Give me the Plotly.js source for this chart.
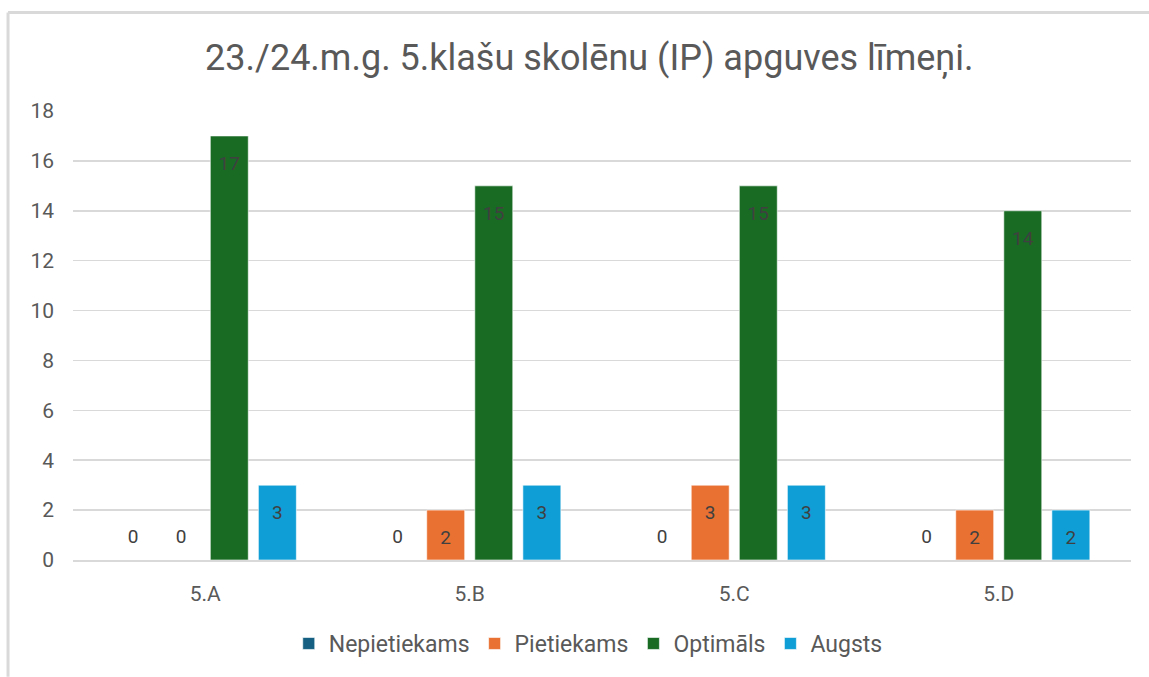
<!DOCTYPE html>
<html>
<head>
<meta charset="utf-8">
<script src="https://cdn.plot.ly/plotly-3.0.1.min.js"></script>
<style>html,body{margin:0;padding:0;background:#fff;}#chart{width:1149px;height:677px;}</style>
</head>
<body>
<div id="chart"></div>
<script>
var categories = ['5.A', '5.B', '5.C', '5.D'];
var seriesNames = ['Nepietiekams', 'Pietiekams', 'Optimāls', 'Augsts'];
var nepietiekams = [0, 0, 0, 0];
var pietiekams = [0, 2, 3, 2];
var optimals = [17, 15, 15, 14];
var augsts = [3, 3, 3, 2];
var colors = ['#156082', '#E97132', '#196B24', '#0F9ED5'];
var tickVals = [0, 2, 4, 6, 8, 10, 12, 14, 16, 18];

var allValues = [nepietiekams, pietiekams, optimals, augsts];
var FONT = 'Roboto, "Liberation Sans", Arial, sans-serif';

var traces = allValues.map(function (vals, i) {
  return {
    type: 'bar',
    name: seriesNames[i],
    offsetgroup: 'g' + i,
    x: categories,
    y: vals,
    marker: { color: colors[i], line: { color: 'rgba(255,255,255,0.6)', width: 1 } },
    hoverinfo: 'x+y+name'
  };
});

// invisible markers used only to push the value labels away from the bar end
var labelTraces = allValues.map(function (vals, i) {
  return {
    type: 'scatter',
    mode: 'markers+text',
    orientation: 'v',
    offsetgroup: 'g' + i,
    showlegend: false,
    x: categories,
    y: vals,
    text: vals.map(String),
    textposition: vals.map(function (v) { return v === 0 ? 'top center' : 'bottom center'; }),
    marker: { size: vals.map(function (v) { return v === 0 ? 18 : 30; }), opacity: 0, color: colors[i] },
    textfont: { family: FONT, size: 19, color: '#404040' },
    cliponaxis: false,
    hoverinfo: 'skip'
  };
});

var layout = {
  width: 1149,
  height: 677,
  paper_bgcolor: '#ffffff',
  plot_bgcolor: '#ffffff',
  margin: { l: 73, r: 18, t: 111, b: 115 },
  barmode: 'group',
  bargap: 0.273,
  bargroupgap: 0.21,
  scattermode: 'group',
  scattergap: 0.273,
  title: {
    text: '23./24.m.g. 5.klašu skolēnu (IP) apguves līmeņi.',
    font: { family: FONT, size: 36, color: '#595959' },
    x: 0.488, xanchor: 'center', xref: 'paper',
    y: 0.915, yanchor: 'middle', yref: 'container'
  },
  xaxis: {
    type: 'category',
    tickfont: { family: FONT, size: 21, color: '#595959' },
    showgrid: false,
    showline: true,
    linecolor: '#d9d9d9',
    linewidth: 1.5,
    ticks: '',
    ticklabelstandoff: 14,
    zeroline: false,
    fixedrange: true
  },
  yaxis: {
    range: [0, 18],
    tickvals: tickVals,
    ticktext: tickVals.map(String),
    tickfont: { family: FONT, size: 21, color: '#595959' },
    showgrid: true,
    gridcolor: '#d9d9d9',
    gridwidth: 1.5,
    zeroline: false,
    showline: false,
    ticks: '',
    ticklabelstandoff: 18,
    fixedrange: true
  },
  showlegend: true,
  legend: {
    orientation: 'h',
    x: 0.487, xanchor: 'center',
    y: -0.186, yanchor: 'middle',
    font: { family: FONT, size: 23, color: '#595959' },
    itemwidth: 30,
    traceorder: 'normal'
  },
  shapes: [
    { type: 'line', xref: 'paper', yref: 'paper', x0: -0.0614, x1: 1.02, y0: 1.2195, y1: 1.2195, line: { color: '#d9d9d9', width: 3 } },
    { type: 'line', xref: 'paper', yref: 'paper', x0: -0.0614, x1: -0.0614, y0: 1.2195, y1: -0.26, line: { color: '#d9d9d9', width: 3 } }
  ]
};

Plotly.newPlot('chart', traces.concat(labelTraces), layout, { displayModeBar: false, staticPlot: true });
</script>
</body>
</html>
